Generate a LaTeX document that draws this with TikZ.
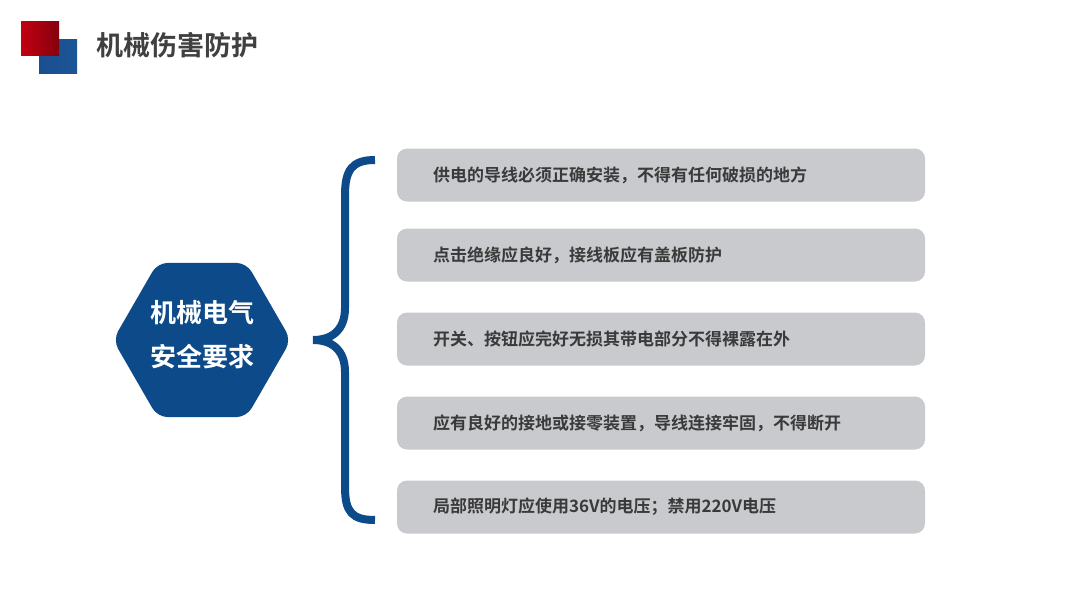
\documentclass[tikz,border=0pt]{standalone}
\usepackage{fontspec}
\setmainfont{Noto Sans CJK SC}[BoldFont={Noto Sans CJK SC Bold}]
\usetikzlibrary{shapes.geometric}

\definecolor{hexblue}{HTML}{0D4A8A}
\definecolor{boxgray}{HTML}{C9CACE}
\definecolor{titlegray}{HTML}{404040}
\definecolor{textgray}{HTML}{3A3A3A}
\definecolor{logored}{HTML}{C20010}
\definecolor{logodark}{HTML}{85000E}
\definecolor{logoblue}{HTML}{1A4E90}
\definecolor{logoblue2}{HTML}{1C5697}

\tikzset{
  item/.style={rectangle, rounded corners=10pt, fill=boxgray, text=textgray,
    minimum height=53pt, text width=456pt, inner xsep=36pt, align=left,
    font=\fontsize{17}{20}\selectfont\bfseries},
  brace/.style={draw=hexblue, line width=8pt}
}

\begin{document}
\begin{tikzpicture}[x=1pt,y=-1pt]
\useasboundingbox (0,0) rectangle (1080,608);
% logo squares
\fill[left color=logoblue, right color=logoblue2] (39,39) rectangle (77,73);
\fill[left color=logored, right color=logodark] (21,21) rectangle (59,55);
\node[anchor=west, text=titlegray, font=\fontsize{27}{30}\selectfont\bfseries] (title) at (93,45) {机械伤害防护};
% hexagon
\node[regular polygon, regular polygon sides=6, minimum size=178pt, inner sep=0pt,
      fill=hexblue, rounded corners=10pt] (hexa) at (202,340) {};
\node[text=white, align=center, font=\fontsize{26}{44}\selectfont\bfseries] (hexatext)
  at ([yshift=5pt]hexa.center) {机械电气\\安全要求};
% brace
\draw[brace] (375,160) .. controls (352,160) and (345,170) .. (345,195) -- (345,308)
  .. controls (345,330) and (332,340) .. (313,340)
  .. controls (332,340) and (345,350) .. (345,372) -- (345,487)
  .. controls (345,512) and (352,520) .. (375,520);
% items
\node[item] (item1) at (661,175) {供电的导线必须正确安装，不得有任何破损的地方};
\node[item] (item2) at (661,255) {点击绝缘应良好，接线板应有盖板防护};
\node[item] (item3) at (661,339) {开关、按钮应完好无损其带电部分不得裸露在外};
\node[item] (item4) at (661,423) {应有良好的接地或接零装置，导线连接牢固，不得断开};
\node[item] (item5) at (661,507) {局部照明灯应使用36V的电压；禁用220V电压};
\end{tikzpicture}
\end{document}
